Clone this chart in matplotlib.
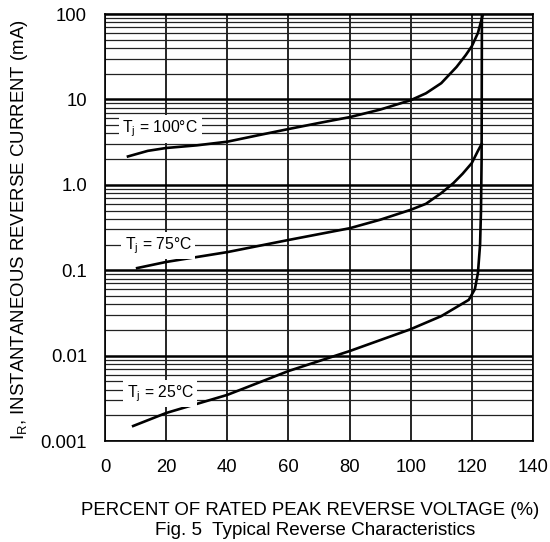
import numpy as np
import matplotlib
matplotlib.use("Agg")
import matplotlib.pyplot as plt
from matplotlib.ticker import LogLocator, NullFormatter

plt.rcParams["font.family"] = ["Liberation Sans", "DejaVu Sans"]
plt.rcParams["mathtext.fontset"] = "custom"
plt.rcParams["mathtext.rm"] = "Liberation Sans"
plt.rcParams["mathtext.it"] = "Liberation Sans"

# percent of rated peak reverse voltage vs reverse current (mA)
x_100 = [7.5, 14, 20, 30, 40, 50, 60, 70, 80, 90, 100, 105, 110, 115, 118, 120, 122, 123.5]
i_100 = [2.15, 2.5, 2.7, 2.9, 3.2, 3.8, 4.5, 5.3, 6.2, 7.6, 9.8, 11.8, 15.5, 24, 33, 42, 60, 95]

x_75 = [10.5, 20, 40, 60, 80, 90, 100, 105, 110, 114, 117, 120, 122, 123.2]
i_75 = [0.106, 0.125, 0.163, 0.226, 0.31, 0.39, 0.51, 0.6, 0.8, 1.05, 1.35, 1.8, 2.5, 3.0]

x_25 = [9.2, 20, 40, 60, 80, 100, 110, 115, 119, 121, 122, 122.7, 123.0, 123.2, 123.3]
i_25 = [0.0015, 0.00213, 0.00347, 0.0066, 0.0113, 0.0204, 0.029, 0.037, 0.045, 0.06, 0.093, 0.2, 0.5, 2.0, 100]

curve_labels = ["$\\mathregular{T_j}$ = 100°C", "$\\mathregular{T_j}$ = 75°C", "$\\mathregular{T_j}$ = 25°C"]
label_pos = [(5.6, 4.5), (6.4, 0.195), (7.1, 0.0036)]

y_ticks = [0.001, 0.01, 0.1, 1.0, 10, 100]
y_ticklabels = ["0.001", "0.01", "0.1", "1.0", "10", "100"]
x_ticks = [0, 20, 40, 60, 80, 100, 120, 140]

fig = plt.figure(figsize=(5.5, 5.42), dpi=100)
ax = fig.add_axes([0.191, 0.1863, 0.778, 0.7878])

ax.set_yscale("log")
ax.set_xlim(0, 140)
ax.set_ylim(0.001, 100)

ax.set_yticks(y_ticks)
ax.set_yticklabels(y_ticklabels)
ax.yaxis.set_minor_locator(LogLocator(base=10, subs=np.arange(2, 10)))
ax.yaxis.set_minor_formatter(NullFormatter())
ax.set_xticks(x_ticks)
ax.tick_params(axis="both", which="both", length=0, labelsize=13.3)
ax.tick_params(axis="x", pad=13)
ax.tick_params(axis="y", pad=13)

ax.grid(True, which="major", axis="y", color="black", linewidth=1.8)
ax.grid(True, which="minor", axis="y", color="#222222", linewidth=0.9)
ax.grid(True, which="major", axis="x", color="black", linewidth=1.2)
ax.set_axisbelow(True)
for s in ax.spines.values():
    s.set_linewidth(1.2)

for xs, ys in [(x_100, i_100), (x_75, i_75), (x_25, i_25)]:
    ax.plot(xs, ys, color="black", linewidth=1.9, zorder=3)

for text, (lx, ly) in zip(curve_labels, label_pos):
    ax.text(lx, ly, text, fontsize=11.3, va="center", ha="left", zorder=4,
            bbox=dict(facecolor="white", edgecolor="none", pad=2.5))

fig.text(0.036, 0.576, "$\\mathregular{I_R}$, INSTANTANEOUS REVERSE CURRENT (mA)",
         rotation=90, ha="center", va="center", fontsize=13.4)
fig.text(0.564, 0.059, "PERCENT OF RATED PEAK REVERSE VOLTAGE (%)",
         ha="center", va="center", fontsize=13.4)
fig.text(0.573, 0.022, "Fig. 5  Typical Reverse Characteristics",
         ha="center", va="center", fontsize=13.6)

fig.savefig("out.png", dpi=100)
